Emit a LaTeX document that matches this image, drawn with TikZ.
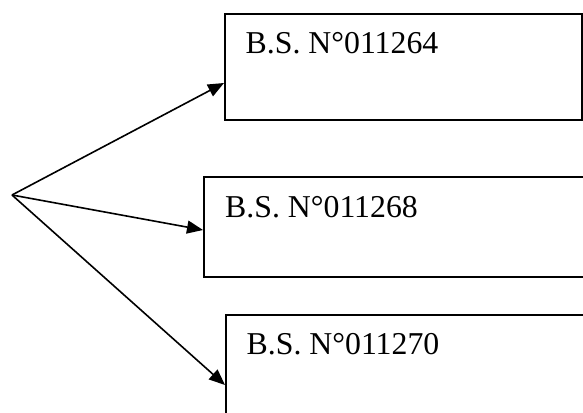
\documentclass[tikz,border=0pt]{standalone}
\usepackage{fontspec}
\setmainfont{Liberation Serif}
\usetikzlibrary{arrows.meta}
\begin{document}
\begin{tikzpicture}[x=1pt,y=-1pt,
  bsbox/.style={draw,line width=2pt,inner sep=0pt,anchor=north west},
  bslabel/.style={anchor=base west,inner sep=0pt,font=\fontsize{31.8}{38}\selectfont},
  conn/.style={line width=1.6pt,-{Triangle[length=16pt,width=13pt]}}]
\clip (0,0) rectangle (583,412);
\fill[white] (0,0) rectangle (583,412);
\node[bsbox,minimum width=357pt,minimum height=106pt] (b1) at (224,13) {};
\node[bsbox,minimum width=400pt,minimum height=100pt] (b2) at (203,176) {};
\node[bsbox,minimum width=400pt,minimum height=110pt] (b3) at (225,314) {};
\node[bslabel] (t1) at (245.5,54) {B.S. N°011264};
\node[bslabel] (t2) at (225,217) {B.S. N°011268};
\node[bslabel] (t3) at (246.5,354) {B.S. N°011270};
\coordinate (o) at (12,195);
\coordinate (e1) at (224,83);
\coordinate (e2) at (203,230);
\coordinate (e3) at (225,385);
\draw[conn] (o) -- (e1);
\draw[conn] (o) -- (e2);
\draw[conn] (o) -- (e3);
\end{tikzpicture}
\end{document}
